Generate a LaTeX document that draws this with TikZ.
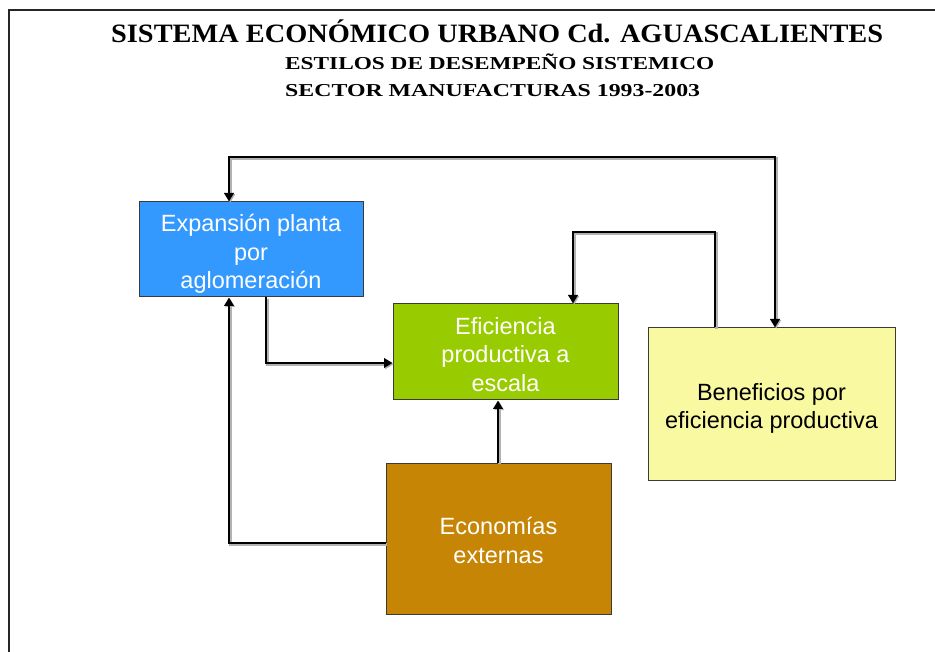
\documentclass[tikz,border=0pt]{standalone}
\usepackage{fontspec}
\usepackage{graphicx}
\usetikzlibrary{arrows.meta}
\newfontfamily\arialf{Liberation Sans}
\newfontfamily\titlef{Liberation Serif}
\definecolor{bxblue}{HTML}{3399FF}
\definecolor{bxgreen}{HTML}{99CC00}
\definecolor{bxyellow}{HTML}{F9F9A2}
\definecolor{bxbrown}{HTML}{C78505}
\definecolor{bxedge}{HTML}{3A3A3A}
\tikzset{
  boxnode/.style={draw=bxedge, line width=1pt, inner sep=0pt},
  boxtext/.style={inner sep=0pt, align=center,
    font=\arialf\fontsize{23.5}{28.5}\selectfont},
  conn/.style={line width=2.8pt, black, line join=miter,
    preaction={draw=black!30, line width=2.8pt, transform canvas={shift={(1.2pt,-1.2pt)}}},
    -{Triangle[length=8.5pt,width=9.5pt]}},
  conn2/.style={line width=2.8pt, black, line join=miter,
    preaction={draw=black!30, line width=2.8pt, transform canvas={shift={(1.2pt,-1.2pt)}}},
    {Triangle[length=8.5pt,width=9.5pt]}-{Triangle[length=8.5pt,width=9.5pt]}},
  titlenode/.style={anchor=base west, inner sep=0pt}
}
\begin{document}
\begin{tikzpicture}[x=1pt,y=-1pt]
\useasboundingbox (0,0) rectangle (935,652);
\fill[white] (0,0) rectangle (935,652);
% frame
\draw[line width=2pt, black!85] (9,652) -- (9,10) -- (936,10);
% titles
\node[titlenode] (t1) at (111,42.5) {\resizebox{772pt}{\height}{\titlef\bfseries\fontsize{26.5}{28}\selectfont SISTEMA ECONÓMICO URBANO Cd. AGUASCALIENTES}};
\node[titlenode] (t2) at (285,69.5) {\resizebox{429pt}{\height}{\titlef\bfseries\fontsize{18.2}{20}\selectfont ESTILOS DE DESEMPEÑO SISTEMICO}};
\node[titlenode] (t3) at (285,97) {\resizebox{415pt}{\height}{\titlef\bfseries\fontsize{18.2}{20}\selectfont SECTOR MANUFACTURAS 1993-2003}};
% boxes
\node[boxnode, fill=bxblue, minimum width=224pt, minimum height=95pt] (blue) at (251,249.5) {};
\node[boxnode, fill=bxgreen, minimum width=225pt, minimum height=96pt] (green) at (505.5,352) {};
\node[boxnode, fill=bxyellow, minimum width=247pt, minimum height=152pt] (yellow) at (771.5,404) {};
\node[boxnode, fill=bxbrown, minimum width=225pt, minimum height=151pt] (brown) at (498.5,538.5) {};
% box texts
\node[boxtext, text=white] (blueT) at ([yshift=-4.5pt]blue.center) {Expansión planta\\por\\aglomeración};
\node[boxtext, text=white] (greenT) at ([yshift=-2.5pt]green.center) {Eficiencia\\productiva a\\escala};
\node[boxtext, text=black] (yellowT) at ([yshift=-4.5pt]yellow.center) {Beneficios por\\eficiencia productiva};
\node[boxtext, text=white] (brownT) at ([yshift=-2pt]brown.center) {Economías\\externas};
% bend points
\coordinate (k1) at (229,157);
\coordinate (k2) at (775,157);
\coordinate (k3) at (715,232);
\coordinate (k4) at (573,232);
\coordinate (k5) at (266,363);
\coordinate (k6) at (498,430);
\coordinate (k7) at (229,543);
% connectors
\draw[conn2] (blue.north -| k1) -- (k1) -- (k2) -- (yellow.north -| k2);
\draw[conn] (yellow.north -| k3) -- (k3) -- (k4) -- (green.north -| k4);
\draw[conn] (blue.south -| k5) -- (k5) -- (green.west |- k5);
\draw[conn] (brown.north -| k6) -- (green.south -| k6);
\draw[conn] (brown.west |- k7) -- (k7) -- (blue.south -| k7);
\end{tikzpicture}
\end{document}
